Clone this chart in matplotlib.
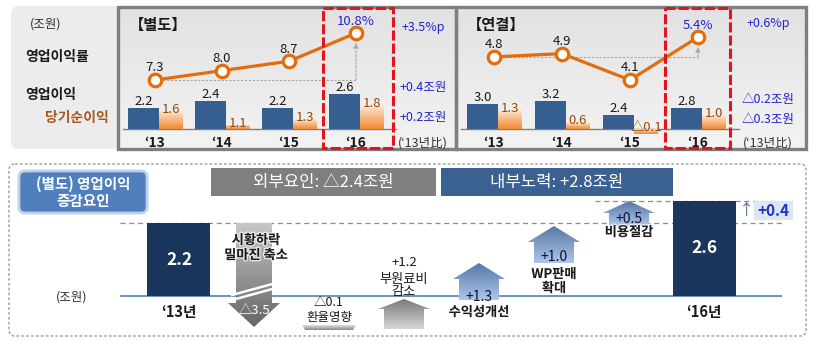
import numpy as np
import matplotlib
matplotlib.use("Agg")
import matplotlib.pyplot as plt
import matplotlib.patheffects as pe
from matplotlib.patches import Rectangle, FancyBboxPatch, Polygon
from matplotlib.colors import LinearSegmentedColormap

plt.rcParams["font.family"] = ["Noto Sans CJK KR", "DejaVu Sans"]

# ---- data (조원 / %) ----
years = ["‘13", "‘14", "‘15", "‘16"]
sep_op = [2.2, 2.4, 2.2, 2.6]         # 별도 영업이익
sep_net = [1.6, 1.1, 1.3, 1.8]        # 별도 당기순이익
sep_margin = [7.3, 8.0, 8.7, 10.8]    # 별도 영업이익률
con_op = [3.0, 3.2, 2.4, 2.8]         # 연결 영업이익
con_net = [1.3, 0.6, -0.1, 1.0]       # 연결 당기순이익
con_margin = [4.8, 4.9, 4.1, 5.4]     # 연결 영업이익률
sep_vs13 = ["+3.5%p", "+0.4조원", "+0.2조원"]
con_vs13 = ["+0.6%p", "△0.2조원", "△0.3조원"]

wf_names = ["‘13년", "시황하락\n밀마진 축소", "환율영향", "부원료비\n감소",
            "수익성개선", "WP판매\n확대", "비용절감", "‘16년"]
wf_values = [2.2, -3.5, -0.1, 1.2, 1.3, 1.0, 0.5, 2.6]
external = sum(wf_values[1:4])
internal = sum(wf_values[4:7])

INK = "#1a1a1a"
NAVY = "#365f91"
DARKNAVY = "#1b365d"
ORANGE = "#e46c0a"
BROWN = "#984807"
BLUETXT = "#2424c8"
RED = "#e3141b"
GRAY = "#7f7f7f"

W, H = 820, 342
fig = plt.figure(figsize=(W / 100, H / 100), dpi=100)
fig.patch.set_facecolor("white")


def fmt(v, plus=False):
    if v < 0:
        return f"△{abs(v):.1f}"
    return f"+{v:.1f}" if plus else f"{v:.1f}"


def overlay(z):
    a = fig.add_axes([0, 0, 1, 1], zorder=z)
    a.set_xlim(0, W)
    a.set_ylim(H, 0)
    a.axis("off")
    return a


def px_axes(x0, y0, x1, y1, z):
    a = fig.add_axes([x0 / W, 1 - y1 / H, (x1 - x0) / W, (y1 - y0) / H], zorder=z)
    a.axis("off")
    return a


def scale(a, base, base_px, k, y0, y1):
    # base value sits on pixel row base_px, k pixels per unit
    a.set_ylim(base - (y1 - base_px) / k, base + (base_px - y0) / k)


def grad(a, verts, c_top, c_bot, z=2, inverted=True):
    poly = Polygon(verts, closed=True, fc="none", ec="none")
    a.add_patch(poly)
    xs, ys = zip(*verts)
    cmap = LinearSegmentedColormap.from_list("g", [c_top, c_bot])
    if inverted:
        ext = [min(xs), max(xs), max(ys), min(ys)]
    else:
        ext = [min(xs), max(xs), min(ys), max(ys)]
    im = a.imshow(np.linspace(0, 1, 64).reshape(-1, 1), cmap=cmap, aspect="auto",
                  extent=ext, origin="upper", zorder=z, interpolation="bilinear")
    im.set_clip_path(poly)


bg = overlay(0)
mid = overlay(5)
fg = overlay(20)

# ---------------- top: 별도 / 연결 ----------------
bg.add_patch(FancyBboxPatch((11, 6), 112, 143, boxstyle="round,pad=0,rounding_size=8",
                            fc="#ececec", ec="none"))
for x0, x1 in [(118, 456), (456, 806)]:
    grad(bg, [(x0, 7), (x1, 7), (x1, 149), (x0, 149)], "#e2e2e2", "#f3f3f3", z=1)
    bg.add_patch(Rectangle((x0, 7), x1 - x0, 142, fc="none", ec=GRAY, lw=2.4, zorder=3))

fg.text(46, 24, "(조원)", fontsize=9, ha="center", va="center", color="#333333")
fg.text(25, 57, "영업이익률", fontsize=10, ha="left", va="center", color=INK, weight="bold")
fg.text(25, 95, "영업이익", fontsize=10, ha="left", va="center", color=INK, weight="bold")
fg.text(45, 118, "당기순이익", fontsize=10, ha="left", va="center", color="#a8591f", weight="bold")


def top_panel(x0, x1, c0, step, title, op, net, margin, op_sc, net_sc, m_sc, vs, vs_x, vs_y):
    y0, y1 = 7, 149
    xl = ((x0 - c0) / step, (x1 - c0) / step)
    x = np.arange(len(years))
    xb, wb = x - 11.5 / step, 31 / step
    xo, wo = x + 16 / step, 24 / step

    a_op = px_axes(x0, y0, x1, y1, 3)
    a_op.bar(xb, np.array(op) - op_sc[0], bottom=op_sc[0], width=wb, color=NAVY, zorder=2)
    for xi, v in zip(xb, op):
        a_op.annotate(fmt(v), (xi, v), xytext=(0, 0), textcoords="offset points",
                      ha="center", va="bottom", fontsize=9.5, color=INK)
    for xi, yr in zip(x, years):
        a_op.text(xi, 0.042, yr, transform=a_op.get_xaxis_transform(), ha="center",
                  va="center", fontsize=10, weight="bold", color=INK)
    a_op.set_xlim(*xl)
    scale(a_op, *op_sc, y0, y1)

    a_net = px_axes(x0, y0, x1, y1, 3)
    for xi, v in zip(xo, net):
        lo, hi = sorted([v, net_sc[0]])
        grad(a_net, [(xi - wo / 2, lo), (xi + wo / 2, lo), (xi + wo / 2, hi), (xi - wo / 2, hi)],
             "#fce9da", "#f28a2e", z=2, inverted=False)
        a_net.annotate(fmt(v), (xi, hi), xytext=(0, 1), textcoords="offset points",
                       ha="center", va="center", fontsize=9.5, color=BROWN)
    a_net.set_xlim(*xl)
    scale(a_net, *net_sc, y0, y1)

    a_m = px_axes(x0, y0, x1, y1, 4)
    a_m.plot([x[0], x[-1]], [margin[0], margin[0]], color="#a8a8a8", lw=0.8, ls=(0, (2, 1.5)), zorder=1)
    a_m.annotate("", xy=(x[-1], margin[-1]), xytext=(x[-1], margin[0]),
                 arrowprops=dict(arrowstyle="-|>", color="#a8a8a8", lw=0.8, ls=(0, (2, 1.5)),
                                 shrinkA=0, shrinkB=7, mutation_scale=7))
    a_m.plot(x, margin, color=ORANGE, lw=2.3, marker="o", ms=9, mfc="white", mec=ORANGE,
             mew=2.3, zorder=3)
    for i, (xi, v) in enumerate(zip(x, margin)):
        last = i == len(x) - 1
        a_m.annotate(f"{v:.1f}%" if last else f"{v:.1f}", (xi, v), xytext=(0, 4),
                     textcoords="offset points", ha="center", va="bottom", fontsize=9.5,
                     color=BLUETXT if last else INK)
    a_m.set_xlim(*xl)
    scale(a_m, *m_sc, y0, y1)

    fg.text(x0 + 11, 25, title, fontsize=11, weight="bold", ha="left", va="center", color=INK)
    for t, yy in zip(vs, vs_y):
        fg.text(vs_x, yy, t, fontsize=9, ha="center", va="center", color=BLUETXT)
    fg.text(vs_x, 143, "(‘13년比)", fontsize=9, ha="center", va="center", color="#333333")

    bl = (x0 + 5, c0 + step * 3.6)
    bg.plot(bl, [129, 129], color=GRAY, lw=1, zorder=4)


top_panel(118, 456, 155, 67, "【별도】", sep_op, sep_net, sep_margin,
          (1.6, 129, 35), (0.95, 129, 28), (7.3, 80, 13.4), sep_vs13, 423, [27, 87, 117])
top_panel(456, 806, 494, 68, "【연결】", con_op, con_net, con_margin,
          (1.6, 129, 17.5), (0.2, 129, 17.5), (4.1, 80, 33), con_vs13, 768, [24, 100, 120])

for x0, x1 in [(323, 393), (665, 730)]:
    fg.add_patch(Rectangle((x0, 8), x1 - x0, 140, fc="none", ec=RED, lw=2.2,
                           ls=(0, (3.3, 1)), zorder=5))

# ---------------- bottom: 영업이익 증감요인 ----------------
fg.add_patch(FancyBboxPatch((9, 164), 797, 172, boxstyle="round,pad=0,rounding_size=6",
                            fc="none", ec="#9c9c9c", lw=1, ls=(0, (2, 1.5))))
fg.add_patch(FancyBboxPatch((19, 171), 128, 42, boxstyle="round,pad=0,rounding_size=6",
                            fc="#4f7fbd", ec="#bcd0ea", lw=2))
fg.text(83, 184, "(별도) 영업이익", fontsize=10.5, color="white", weight="bold", ha="center", va="center")
fg.text(83, 201, "증감요인", fontsize=10.5, color="white", weight="bold", ha="center", va="center")

bg.add_patch(Rectangle((211, 168), 225, 28, fc=GRAY, ec="none"))
bg.add_patch(Rectangle((441, 168), 232, 28, fc="#3b6192", ec="none"))
fg.text(323, 182, f"외부요인: {fmt(external, plus=True)}조원", fontsize=12, color="white",
        ha="center", va="center")
fg.text(557, 182, f"내부노력: {fmt(internal, plus=True)}조원", fontsize=12, color="white",
        ha="center", va="center")

WX0, WX1, WC0, WSTEP = 120, 782, 179, 75
wf = px_axes(WX0, 160, WX1, 330, 3)
wxl = ((WX0 - WC0) / WSTEP, (WX1 - WC0) / WSTEP)
base = 0.9
ends = [0, len(wf_values) - 1]
wf.bar(ends, [wf_values[i] - base for i in ends], bottom=base, width=0.84, color=DARKNAVY, zorder=3)
for i in ends:
    wf.text(i, (wf_values[i] + base) / 2, fmt(wf_values[i]), ha="center", va="center",
            fontsize=12.5, weight="bold", color="white", zorder=4)
    wf.annotate(wf_names[i], (i, base), xytext=(0, -11.5), textcoords="offset points",
                ha="center", va="center", fontsize=10.5, weight="bold", color=INK)
wf.hlines(wf_values[0], *wxl, color="#8c8c8c", lw=0.9, ls=(0, (4, 3)), zorder=1)
wf.hlines(wf_values[-1], (595 - WC0) / WSTEP, wxl[1], color="#8c8c8c", lw=0.9, ls=(0, (4, 3)), zorder=1)
wf.hlines(base, *wxl, color="#4f81bd", lw=1.2, zorder=2)
wf.set_xlim(*wxl)
scale(wf, base, 296, 56, 160, 330)

fg.text(72, 297, "(조원)", fontsize=9, ha="center", va="center", color="#333333")


def cx(i):
    return WC0 + WSTEP * i


halo = [pe.withStroke(linewidth=2, foreground="white", alpha=0.7)]

# 1: 시황하락 (schematic down arrow with break)
c = cx(1)
grad(mid, [(c - 18, 223), (c + 18, 223), (c + 18, 303), (c + 26, 303), (c, 327),
           (c - 26, 303), (c - 18, 303)], "#c6c6c6", "#666666", z=2)
mid.plot([c - 22, c + 22], [295, 283], color="white", lw=1.8, zorder=3)
mid.plot([c - 22, c + 22], [300, 288], color="white", lw=1.8, zorder=3)
name = wf_names[1].split("\n")
fg.text(c + 2, 240, name[0], fontsize=9.5, weight="bold", ha="center", va="center", color=INK, path_effects=halo)
fg.text(c + 2, 255, name[1], fontsize=9.5, weight="bold", ha="center", va="center", color=INK, path_effects=halo)
fg.text(c, 310, fmt(wf_values[1]), fontsize=9.5, ha="center", va="center", color="white")

# 2: 환율영향
c = cx(2)
grad(mid, [(c - 27, 325), (c + 27, 325), (c + 24, 330), (c - 24, 330)], "#e0e0e0", "#8a8a8a", z=2)
fg.text(c, 303, fmt(wf_values[2]), fontsize=9, ha="center", va="center", color=INK)
fg.text(c, 318, wf_names[2], fontsize=9, ha="center", va="center", color=INK)


def house(c, peak, shoulder, bottom, top_col, bot_col):
    grad(mid, [(c, peak), (c + 26, shoulder), (c + 20, shoulder), (c + 20, bottom),
               (c - 20, bottom), (c - 20, shoulder), (c - 26, shoulder)], top_col, bot_col, z=2)


# 3: 부원료비 감소 (gray)
c = cx(3)
house(c, 299, 309, 329, "#7a7a7a", "#d6d6d6")
fg.text(c, 263, fmt(wf_values[3], plus=True), fontsize=9.5, ha="center", va="center", color=INK)
for j, ln in enumerate(wf_names[3].split("\n")):
    fg.text(c, 279 + 13 * j, ln, fontsize=9.5, ha="center", va="center", color=INK)

# 4-6: 내부노력 (blue)
geom = {4: (263, 279, 300, 297, 312), 5: (226, 242, 263, 257, 274), 6: (201, 213, 226, 219, 232)}
for i, (pk, sh, bt, vy, ny) in geom.items():
    c = cx(i)
    house(c, pk, sh, bt, "#5777a6", "#abc6ea")
    fg.text(c, vy, fmt(wf_values[i], plus=True), fontsize=10, ha="center", va="center", color="#111133")
    for j, ln in enumerate(wf_names[i].split("\n")):
        fg.text(c, ny + 14 * j, ln, fontsize=9.5, weight="bold", ha="center", va="center",
                color=INK, path_effects=halo)

# gap '13 -> '16
fg.text(747, 211, "↑", fontsize=11, ha="center", va="center", color="#4f6f9f")
fg.add_patch(Rectangle((754, 201), 39, 19, fc="#dce6f2", ec="none"))
fg.text(773, 211, fmt(wf_values[-1] - wf_values[0], plus=True), fontsize=11, weight="bold",
        ha="center", va="center", color="#1f2fcc")

for a in (bg, mid, fg):
    a.set_xlim(0, W)
    a.set_ylim(H, 0)

fig.savefig("out.png", dpi=100, facecolor="white")
